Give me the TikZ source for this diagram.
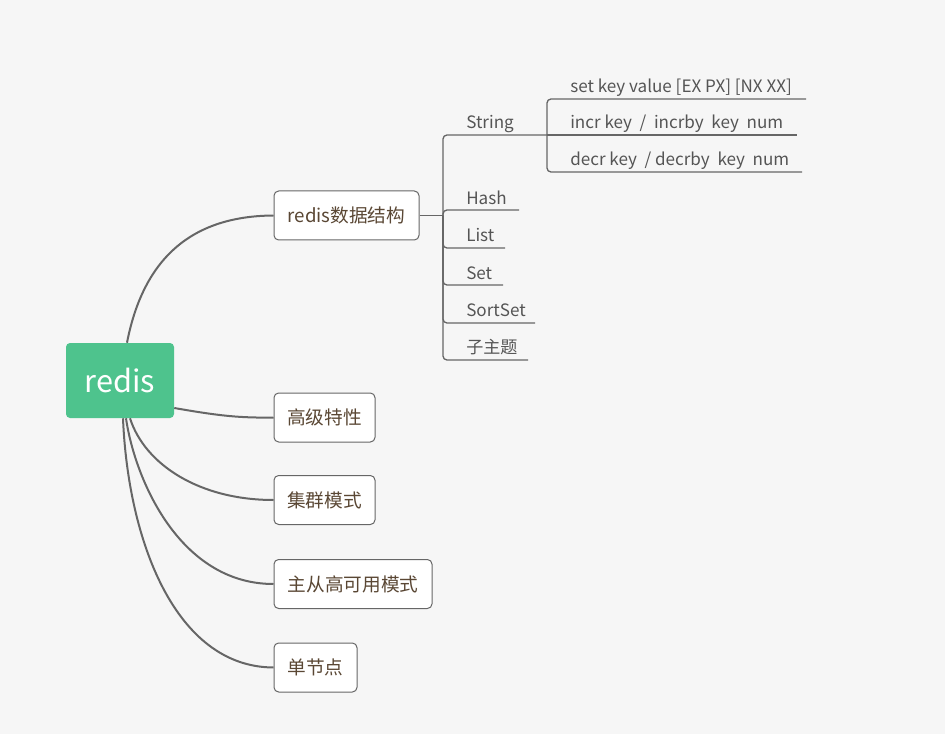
\documentclass[tikz,border=0pt]{standalone}
\usepackage{fontspec}
\setmainfont{Noto Sans CJK SC}
\usetikzlibrary{calc}
\definecolor{bgc}{HTML}{F6F6F6}
\definecolor{rootc}{HTML}{4EC38D}
\definecolor{linec}{HTML}{666666}
\definecolor{boxtext}{HTML}{5A4734}
\definecolor{leaftext}{HTML}{555555}
\tikzset{
  rootbox/.style={fill=rootc, draw=none, rounded corners=3pt, minimum width=81pt, minimum height=56.25pt, inner sep=0pt, text=white, font=\fontsize{23}{26}\selectfont},
  topicbox/.style={fill=white, draw=linec, line width=0.75pt, rounded corners=3.5pt, minimum height=36.75pt, inner sep=0pt, text=boxtext, font=\fontsize{14}{16}\selectfont},
  leaf/.style={inner sep=0pt, anchor=base west, text=leaftext, font=\fontsize{12.8}{15}\selectfont},
  mainline/.style={draw=linec, line width=1.5pt},
  subline/.style={draw=linec, line width=1pt, rounded corners=3pt},
}
\begin{document}
\begin{tikzpicture}[x=0.75pt, y=-0.75pt]
\fill[bgc] (0,0) rectangle (945,734);
\useasboundingbox (0,0) rectangle (945,734);

% root
\node[rootbox] (root) at (120,380.5) {redis};

% topic boxes
\node[topicbox, minimum width=108.75pt] (ds) at (346.5,215.5) {redis数据结构};
\node[topicbox, minimum width=75.75pt] (adv) at (324.5,417.5) {高级特性};
\node[topicbox, minimum width=75.75pt] (cluster) at (324.5,500) {集群模式};
\node[topicbox, minimum width=118.5pt] (ms) at (353,584) {主从高可用模式};
\node[topicbox, minimum width=62.25pt] (single) at (315.5,667.5) {单节点};

% main curves
\draw[mainline] ($(root.north)+(7,0)$) .. controls (145,250) and (200,216) .. (ds.west);
\draw[mainline] ($(root.east)+(0,27.5)$) .. controls (220,416) and (240,418) .. (adv.west);
\draw[mainline] ($(root.south)+(10,0)$) .. controls (145,465) and (200,500) .. (cluster.west);
\draw[mainline] ($(root.south)+(6,0)$) .. controls (135,480) and (180,584) .. (ms.west);
\draw[mainline] ($(root.south)+(3,0)$) .. controls (128,540) and (175,667) .. (single.west);

% junctions
\coordinate (j1) at (443,215.5);
\coordinate (j2) at (547,135);
\draw[draw=linec, line width=1pt] (ds.east) -- (j1);

% level-2 leaves
\node[leaf] (string) at (466,129) {String};
\node[leaf] (hash) at (466,204.5) {Hash};
\node[leaf] (list) at (466,242) {List};
\node[leaf] (set) at (466,279) {Set};
\node[leaf] (sortset) at (466,316.5) {SortSet};
\node[leaf] (sub) at (466,353.5) {子主题};

\coordinate (hashU) at (519,210);
\coordinate (listU) at (505,248);
\coordinate (setU) at (503,285);
\coordinate (sortsetU) at (535,323);
\coordinate (subU) at (528,360);

\draw[subline] (j1) |- (j2);
\draw[subline] (j1) |- (hashU);
\draw[subline] (j1) |- (listU);
\draw[subline] (j1) |- (setU);
\draw[subline] (j1) |- (sortsetU);
\draw[subline] (j1) |- (subU);

% level-3 leaves
\node[leaf] (setcmd) at (570,92.5) {set key value [EX PX] [NX XX]};
\node[leaf] (incr) at (570,129) {incr key\ \ /\ \ incrby\ \ key\ \ num};
\node[leaf] (decr) at (570,166) {decr key\ \ / decrby\ \ key\ \ num};

\coordinate (setcmdU) at (806,99);
\coordinate (incrU) at (797,135);
\coordinate (decrU) at (802,172);

\draw[subline] (j2) |- (setcmdU);
\draw[subline] (j2) -- (incrU);
\draw[subline] (j2) |- (decrU);
\end{tikzpicture}
\end{document}
